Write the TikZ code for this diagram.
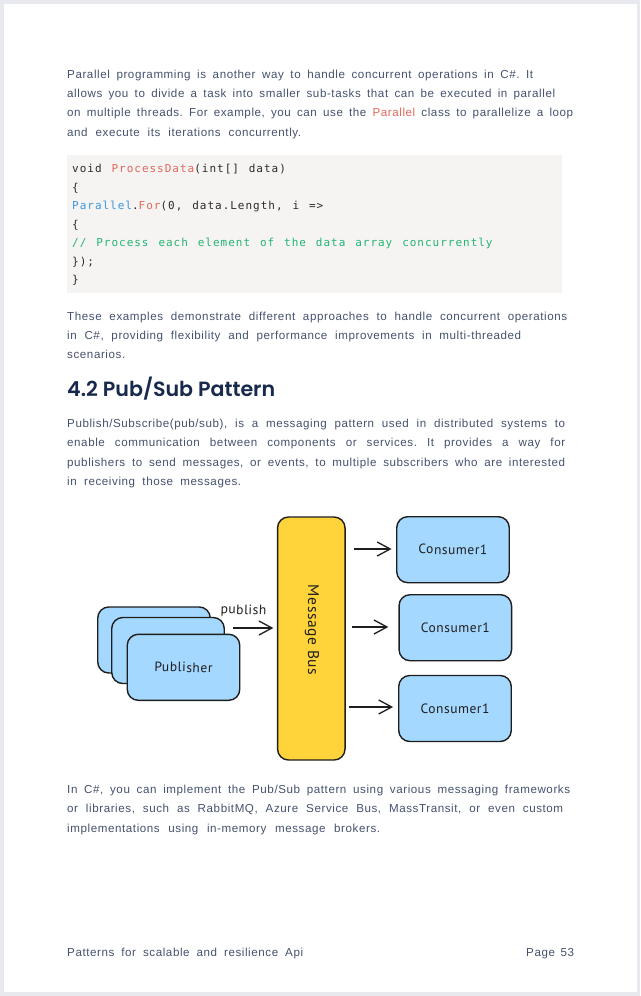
\documentclass[tikz,border=0pt]{standalone}
\usepackage{fontspec}
\usetikzlibrary{arrows.meta}
\setmainfont{Liberation Sans}[LetterSpace=5]
\newfontfamily\codefont{DejaVu Sans Mono}[LetterSpace=9,WordSpace=1.3]
\newfontfamily\headfont{Poppins}[BoldFont={Poppins SemiBold}]
\newfontfamily\handfont{PT Sans}[LetterSpace=4]
\definecolor{pagebg}{HTML}{E8E9EF}
\definecolor{bodyc}{HTML}{45526E}
\definecolor{headc}{HTML}{17294D}
\definecolor{codebg}{HTML}{F5F4F3}
\definecolor{codec}{HTML}{2B2B2B}
\definecolor{redc}{HTML}{E2685A}
\definecolor{bluec}{HTML}{3D97E0}
\definecolor{greenc}{HTML}{22B573}
\definecolor{boxblue}{HTML}{A5D8FF}
\definecolor{busy}{HTML}{FFD43B}
\definecolor{inkc}{HTML}{1E1E1E}
\newcommand{\fitj}[2]{\hbox to #1pt{\frenchspacing\spaceskip=.3em plus 1em minus .2em\relax #2}}
\tikzset{
  x=1pt,y=-1pt,
  body/.style={anchor=base west,inner sep=0pt,text=bodyc,font=\fontsize{11.6}{13}\selectfont},
  code/.style={anchor=base west,inner sep=0pt,text=codec,font=\codefont\fontsize{11}{13}\selectfont},
  sketchbox/.style={draw=inkc,line width=1.4pt,fill=boxblue,rounded corners=11pt,minimum width=112.5pt,minimum height=66pt,inner sep=0pt,text=inkc,font=\handfont\fontsize{13.5}{15}\selectfont},
  busbox/.style={draw=inkc,line width=1.4pt,fill=busy,rounded corners=11pt,minimum width=67.5pt,minimum height=243pt,inner sep=0pt},
  arr/.style={draw=inkc,line width=1.4pt,-{Straight Barb[length=13pt,width=14pt,line width=1.3pt]}},
  hand/.style={inner sep=0pt,text=inkc,font=\handfont\fontsize{13.5}{15}\selectfont}
}
\begin{document}
\begin{tikzpicture}
\useasboundingbox (0,0) rectangle (640,996);
\fill[pagebg] (0,0) rectangle (640,996);
\fill[white] (3.5,4) rectangle (637,992);
% para 1
\node[body] (p1a) at (67,78) {\fitj{466}{Parallel programming is another way to handle concurrent operations in C\#. It}};
\node[body] (p1b) at (67,97) {\fitj{488}{allows you to divide a task into smaller sub-tasks that can be executed in parallel}};
\node[body] (p1c) at (67,116) {\fitj{506}{on multiple threads. For example, you can use the \textcolor{redc}{Parallel} class to parallelize a loop}};
\node[body] (p1d) at (67,136) {\fitj{234}{and execute its iterations concurrently.}};
% code
\fill[codebg] (67,155) rectangle (562,293);
\node[code] (c1) at (72,172) {void \textcolor{redc}{ProcessData}(int[] data)};
\node[code] (c2) at (72,191) {\{};
\node[code] (c3) at (72,209) {\textcolor{bluec}{Parallel}.\textcolor{redc}{For}(0, data.Length, i =>};
\node[code] (c4) at (72,228) {\{};
\node[code] (c5) at (72,246) {\textcolor{greenc}{// Process each element of the data array concurrently}};
\node[code] (c6) at (72,265) {\});};
\node[code] (c7) at (72,283) {\}};
% para 2
\node[body] (p2a) at (67,320) {\fitj{500}{These examples demonstrate different approaches to handle concurrent operations}};
\node[body] (p2b) at (67,339) {\fitj{454}{in C\#, providing flexibility and performance improvements in multi-threaded}};
\node[body] (p2c) at (67,358) {\fitj{63}{scenarios.}};
% heading
\node[anchor=base west,inner sep=0pt,text=headc,font=\headfont\bfseries\fontsize{20.6}{24}\selectfont] (h) at (67,396) {4.2 Pub/Sub Pattern};
% para 3
\node[body] (p3a) at (67,427) {\fitj{498}{Publish/Subscribe(pub/sub), is a messaging pattern used in distributed systems to}};
\node[body] (p3b) at (67,446) {\fitj{498}{enable communication between components or services. It provides a way for}};
\node[body] (p3c) at (67,466) {\fitj{498}{publishers to send messages, or events, to multiple subscribers who are interested}};
\node[body] (p3d) at (67,485) {\fitj{174}{in receiving those messages.}};
% diagram
\node[sketchbox] (pubA) at (154,640) {};
\node[sketchbox] (pubB) at (168,650.5) {};
\node[sketchbox] (pubC) at (183.5,667.3) {\rotatebox{-1.5}{Publisher}};
\node[busbox] (bus) at (311.3,638.5) {};
\node[hand,rotate=-90,font=\handfont\fontsize{15.5}{17}\selectfont] (busl) at (312,630) {Message Bus};
\node[sketchbox] (con1) at (453,549.7) {\rotatebox{-1}{Consumer1}};
\node[sketchbox] (con2) at (455.3,627.7) {Consumer1};
\node[sketchbox] (con3) at (455,708.5) {Consumer1};
\node[hand,rotate=-2] (publ) at (243.5,611) {publish};
\draw[arr,shorten <=8pt,shorten >=3.5pt] (pubB.east |- 0,628) -- (bus.west |- 0,628);
\draw[arr,shorten <=8pt,shorten >=4.5pt] (bus.east |- 0,549) -- (con1.west |- 0,549);
\draw[arr,shorten <=6pt,shorten >=10pt] (bus.east |- 0,627) -- (con2.west |- 0,627);
\draw[arr,shorten <=3pt,shorten >=5pt] (bus.east |- 0,707) -- (con3.west |- 0,707);
% bottom para
\node[body] (p4a) at (67,793) {\fitj{503}{In C\#, you can implement the Pub/Sub pattern using various messaging frameworks}};
\node[body] (p4b) at (67,812) {\fitj{496}{or libraries, such as RabbitMQ, Azure Service Bus, MassTransit, or even custom}};
\node[body] (p4c) at (67,832) {\fitj{313}{implementations using in-memory message brokers.}};
% footer
\node[body] (fl) at (67,956) {\fitj{236}{Patterns for scalable and resilience Api}};
\node[body] (fr) at (526,956) {\fitj{48}{Page 53}};
\end{tikzpicture}
\end{document}
